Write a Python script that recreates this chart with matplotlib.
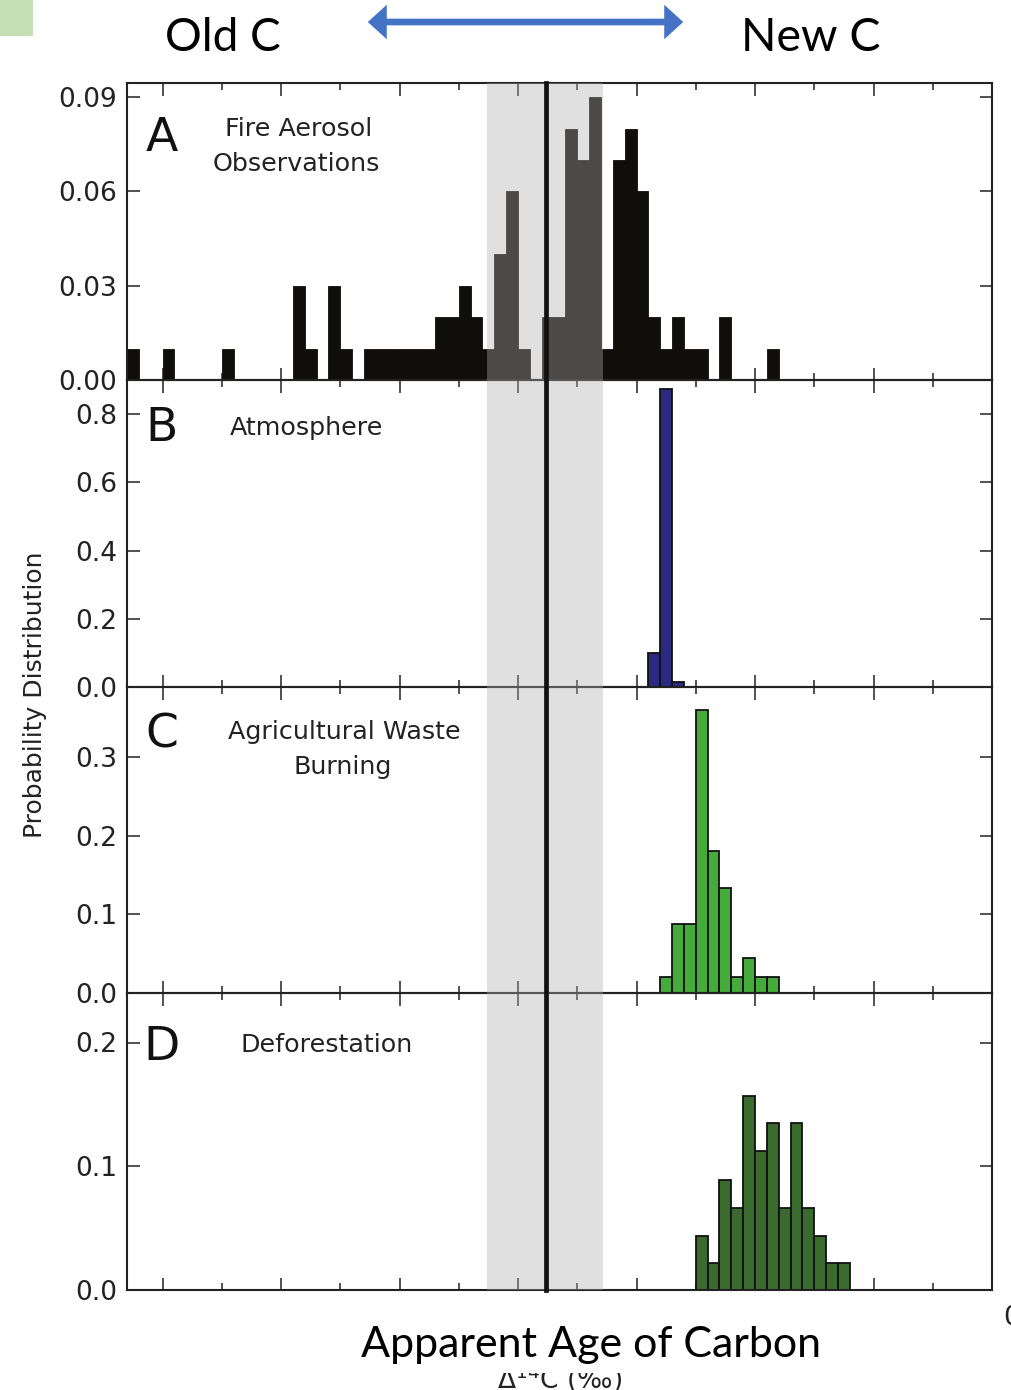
import numpy as np
import matplotlib
matplotlib.use("Agg")
import matplotlib.pyplot as plt
from matplotlib.patches import Rectangle, FancyArrowPatch, ArrowStyle
from matplotlib.lines import Line2D
from matplotlib.transforms import blended_transform_factory, Bbox

# ---------------- data ----------------
bin_width = 10
fire_x0 = 0
fire_values = [0.01, 0, 0, 0.01, 0, 0, 0, 0, 0.01, 0,
               0, 0, 0, 0, 0.03, 0.01, 0, 0.03, 0.01, 0,
               0.01, 0.01, 0.01, 0.01, 0.01, 0.01, 0.02, 0.02, 0.03, 0.02,
               0.01, 0.04, 0.06, 0.01, 0, 0.02, 0.02, 0.08, 0.07, 0.09,
               0.01, 0.07, 0.08, 0.06, 0.02, 0.01, 0.02, 0.01, 0.01, 0,
               0.02, 0, 0, 0, 0.01]
atmos_x0 = 440
atmos_values = [0.10, 0.875, 0.015]
agri_x0 = 450
agri_values = [0.02, 0.088, 0.088, 0.36, 0.18, 0.134, 0.02, 0.044, 0.02, 0.02]
defor_x0 = 480
defor_values = [0.044, 0.022, 0.089, 0.066, 0.157, 0.112, 0.135, 0.066,
                0.135, 0.066, 0.044, 0.022, 0.022]

x_range = (0, 730)
major_ticks = [30, 130, 230, 330, 430, 530, 630, 730]
minor_ticks = [80, 180, 280, 380, 480, 580, 680]
ref_line = 354
ref_band = (304, 402)

panel_letters = ["A", "B", "C", "D"]
panel_titles = [["Fire Aerosol", "Observations"], ["Atmosphere"],
                ["Agricultural Waste", "Burning"], ["Deforestation"]]
yticks = [[0, 0.03, 0.06, 0.09], [0, 0.2, 0.4, 0.6, 0.8],
          [0, 0.1, 0.2, 0.3], [0, 0.1, 0.2]]
ytick_labels = [["0.00", "0.03", "0.06", "0.09"],
                ["0.0", "0.2", "0.4", "0.6", "0.8"],
                ["0.0", "0.1", "0.2", "0.3"],
                ["0.0", "0.1", "0.2"]]
ylims = [0.0945, 0.9, 0.389, 0.24]
colors = ["#0f0e0b", "#2a2a80", "#45ab3b", "#3a6a2d"]
ylabel = "Probability Distribution"
xlabel_top_left = "Old C"
xlabel_top_right = "New C"
bottom_label = "Apparent Age of Carbon"
hidden_label = "Δ$^{14}$C (‰)"

# ---------------- figure ----------------
W, H = 1012, 1390
plt.rcParams['font.family'] = ['DejaVu Sans']
fig = plt.figure(figsize=(W / 100, H / 100), dpi=100)


def fx(px):
    return px / W


def fy(py):
    return 1 - py / H


panel_px = [(83, 380), (380, 687), (687, 993), (993, 1290)]
left_px, right_px = 127, 992
axes = []
for (top, bot) in panel_px:
    ax = fig.add_axes([fx(left_px), fy(bot), fx(right_px - left_px), (bot - top) / H])
    axes.append(ax)

series = [(fire_x0, fire_values), (atmos_x0, atmos_values),
          (agri_x0, agri_values), (defor_x0, defor_values)]

for i, ax in enumerate(axes):
    x0, vals = series[i]
    xs = x0 + bin_width * np.arange(len(vals))
    if i == 0:
        ax.bar(xs, vals, width=bin_width, align='edge', color=colors[i],
               edgecolor=colors[i], linewidth=0.6, zorder=2)
    else:
        ax.bar(xs, vals, width=bin_width, align='edge', color=colors[i],
               edgecolor='#111111', linewidth=1.3, zorder=2)
    ax.set_xlim(*x_range)
    ax.set_ylim(0, ylims[i])
    ax.set_xticks(major_ticks)
    ax.set_xticks(minor_ticks, minor=True)
    ax.set_yticks(yticks[i])
    ax.set_yticklabels(ytick_labels[i])
    ax.tick_params(axis='both', which='major', direction='in', length=9,
                   width=1.2, color='#333333', top=True, right=True,
                   labelbottom=False, labelsize=19, pad=7, labelcolor='#222222')
    ax.tick_params(axis='x', which='minor', direction='in', length=5,
                   width=1.2, color='#333333', top=True, bottom=True)
    for sp in ax.spines.values():
        sp.set_linewidth(1.5)
        sp.set_color('#222222')
    ax.set_facecolor('none')

# grey band + reference line across all panels
trans = blended_transform_factory(axes[0].transData, fig.transFigure)
band = Rectangle((ref_band[0], fy(1290)), ref_band[1] - ref_band[0],
                 fy(83) - fy(1290), transform=trans,
                 facecolor=(174 / 255, 174 / 255, 174 / 255), alpha=0.38,
                 edgecolor='none', zorder=5)
fig.add_artist(band)
vline = Line2D([ref_line, ref_line], [fy(1290), fy(83)], transform=trans,
               color='#111111', lw=3.4, zorder=6)
fig.add_artist(vline)

# panel texts
letter_pos = [(162, 151), (162, 441), (162, 748), (162, 1060)]
title_pos = [[(299, 136), (296.5, 171)], [(306.5, 435)],
             [(344.5, 739), (343, 774)], [(327, 1052)]]
for i in range(4):
    lx, ly = letter_pos[i]
    fig.text(fx(lx), fy(ly), panel_letters[i], fontsize=34, ha='center',
             va='baseline', color='#111111', zorder=10)
    for line, (tx, ty) in zip(panel_titles[i], title_pos[i]):
        fig.text(fx(tx), fy(ty), line, fontsize=18.3, ha='center',
                 va='baseline', color='#222222', zorder=10)

fig.text(fx(35), fy(695), ylabel, rotation=90, fontsize=18, ha='center',
         va='center', color='#222222')

# top annotations
fig.add_artist(Rectangle((0, fy(36)), fx(33), 36 / H, transform=fig.transFigure,
                         facecolor='#c5e0b4', edgecolor='none'))
fig.text(fx(223), fy(51), xlabel_top_left, fontsize=33, family='Lato',
         ha='center', va='baseline', color='black')
fig.text(fx(811), fy(51), xlabel_top_right, fontsize=33.5, family='Lato',
         ha='center', va='baseline', color='black')
arrow = FancyArrowPatch((fx(365), fy(22)), (fx(686), fy(22)),
                        transform=fig.transFigure,
                        arrowstyle=ArrowStyle('<|-|>', head_length=0.55, head_width=0.5),
                        mutation_scale=14, lw=4.8, color='#4472c4',
                        joinstyle='miter', capstyle='butt')
fig.add_artist(arrow)

# bottom labels: original axis label mostly hidden below the new label
hid = fig.text(fx(560), fy(1389), hidden_label, fontsize=19, ha='center',
               va='baseline', color='#222222', zorder=1)
hid.set_clip_box(Bbox.from_extents(0, 0, W, H - 1373))
hid.set_clip_on(True)
fig.text(fx(591), fy(1357), bottom_label, fontsize=31, family='Lato',
         ha='center', va='baseline', color='black', zorder=3)
fig.text(fx(1003), fy(1318), "0", fontsize=19, ha='left', va='center',
         color='#222222')

fig.savefig("out.png", dpi=100)
